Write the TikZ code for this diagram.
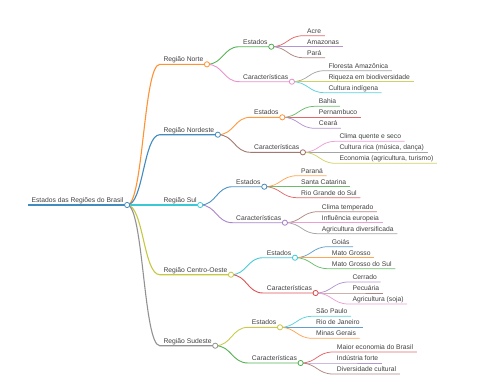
\documentclass[tikz,border=0pt]{standalone}
\usepackage{fontspec}
\setmainfont{Liberation Sans}
\usetikzlibrary{calc}

\definecolor{mmblue}{HTML}{1F77B4}
\definecolor{mmorange}{HTML}{FF7F0E}
\definecolor{mmgreen}{HTML}{2CA02C}
\definecolor{mmred}{HTML}{D62728}
\definecolor{mmpurple}{HTML}{9467BD}
\definecolor{mmbrown}{HTML}{8C564B}
\definecolor{mmpink}{HTML}{E377C2}
\definecolor{mmgray}{HTML}{7F7F7F}
\definecolor{mmolive}{HTML}{BCBD22}
\definecolor{mmcyan}{HTML}{17BECF}
\definecolor{txt}{HTML}{404040}

\begin{document}
\begin{tikzpicture}[
        x=1pt, y=-1pt,
        lbl/.style={anchor=south west, font=\fontsize{6.75}{8}\selectfont, text=txt, inner xsep=3.5pt, inner ysep=2.5pt, text depth=0pt},
        mm/.style={to path={.. controls ($(\tikztostart)!0.5!(\tikztostart-|\tikztotarget)$) and ($(\tikztotarget)!0.5!(\tikztotarget-|\tikztostart)$) .. (\tikztotarget)}},
        ramo/.style={line width=1.1pt, draw=#1!85},
        sub/.style={line width=0.9pt, draw=#1!80},
        folha/.style={line width=0.75pt, draw=#1!70},
        dot/.style={draw=#1!85, fill=white, line width=0.8pt}
    ]
        \useasboundingbox (0,0) rectangle (480,384);

        % raiz e regiões
        \node[lbl] (raiz) at (27.8,205) {Estados das Regiões do Brasil};
        \node[lbl] (norte) at (159.8,64.3) {Região Norte};
        \node[lbl] (nordeste) at (159.8,134.7) {Região Nordeste};
        \node[lbl] (sul) at (159.8,205) {Região Sul};
        \node[lbl] (centro) at (159.8,274.7) {Região Centro-Oeste};
        \node[lbl] (sudeste) at (159.8,345.7) {Região Sudeste};

        % Norte
        \node[lbl] (norteE) at (239.5,46.7) {Estados};
        \node[lbl] (norteC) at (239.5,81.7) {Características};
        \node[lbl] (acre) at (303.5,35.7) {Acre};
        \node[lbl] (amazonas) at (303.5,46.7) {Amazonas};
        \node[lbl] (para) at (303.5,57.7) {Pará};
        \node[lbl] (floresta) at (324.8,70.7) {Floresta Amazônica};
        \node[lbl] (riqueza) at (324.8,81.7) {Riqueza em biodiversidade};
        \node[lbl] (indigena) at (324.8,92.7) {Cultura indígena};

        % Nordeste
        \node[lbl] (nordesteE) at (250.5,117.3) {Estados};
        \node[lbl] (nordesteC) at (250.5,152.3) {Características};
        \node[lbl] (bahia) at (315.2,106.3) {Bahia};
        \node[lbl] (pernambuco) at (315.2,117.3) {Pernambuco};
        \node[lbl] (ceara) at (315.2,128.3) {Ceará};
        \node[lbl] (clima) at (335.8,141.3) {Clima quente e seco};
        \node[lbl] (culturarica) at (335.8,152.3) {Cultura rica (música, dança)};
        \node[lbl] (economia) at (335.8,163.3) {Economia (agricultura, turismo)};

        % Sul
        \node[lbl] (sulE) at (232.5,186.7) {Estados};
        \node[lbl] (sulC) at (232.5,222.7) {Características};
        \node[lbl] (parana) at (297.5,175.7) {Paraná};
        \node[lbl] (santa) at (297.5,186.7) {Santa Catarina};
        \node[lbl] (rgs) at (297.5,197.7) {Rio Grande do Sul};
        \node[lbl] (temperado) at (318.2,211.7) {Clima temperado};
        \node[lbl] (europeia) at (318.2,222.7) {Influência europeia};
        \node[lbl] (agrodiv) at (318.2,233.7) {Agricultura diversificada};

        % Centro-Oeste
        \node[lbl] (centroE) at (263.2,257.7) {Estados};
        \node[lbl] (centroC) at (263.2,293) {Características};
        \node[lbl] (goias) at (328.2,246.7) {Goiás};
        \node[lbl] (mt) at (328.2,257.7) {Mato Grosso};
        \node[lbl] (mts) at (328.2,268.7) {Mato Grosso do Sul};
        \node[lbl] (cerrado) at (348.8,282) {Cerrado};
        \node[lbl] (pecuaria) at (348.8,293) {Pecuária};
        \node[lbl] (soja) at (348.8,304) {Agricultura (soja)};

        % Sudeste
        \node[lbl] (sudesteE) at (248.2,327.3) {Estados};
        \node[lbl] (sudesteC) at (248.2,363) {Características};
        \node[lbl] (sp) at (312.5,316.3) {São Paulo};
        \node[lbl] (rj) at (312.5,327.3) {Rio de Janeiro};
        \node[lbl] (mg) at (312.5,338.3) {Minas Gerais};
        \node[lbl] (maior) at (333.2,352) {Maior economia do Brasil};
        \node[lbl] (industria) at (333.2,363) {Indústria forte};
        \node[lbl] (diversidade) at (333.2,374) {Diversidade cultural};

        % raiz -> regiões
        \draw[ramo=mmblue] (raiz.south west) -- (raiz.south east);
        \foreach \f/\c in {norte/mmorange, nordeste/mmblue, sul/mmcyan, centro/mmolive, sudeste/mmgray}
            \draw[ramo=\c] (raiz.south east) to[mm] (\f.south west) -- (\f.south east);

        % regiões -> Estados / Características
        \foreach \p/\f/\c in {norte/norteE/mmgreen, norte/norteC/mmpink,
                nordeste/nordesteE/mmorange, nordeste/nordesteC/mmbrown,
                sul/sulE/mmblue, sul/sulC/mmpurple,
                centro/centroE/mmcyan, centro/centroC/mmred,
                sudeste/sudesteE/mmolive, sudeste/sudesteC/mmgreen}
            \draw[sub=\c] (\p.south east) to[mm] (\f.south west) -- (\f.south east);

        % folhas
        \foreach \p/\f/\c in {norteE/acre/mmred, norteE/amazonas/mmpurple, norteE/para/mmbrown,
                norteC/floresta/mmgray, norteC/riqueza/mmolive, norteC/indigena/mmcyan,
                nordesteE/bahia/mmgreen, nordesteE/pernambuco/mmred, nordesteE/ceara/mmpurple,
                nordesteC/clima/mmpink, nordesteC/culturarica/mmgray, nordesteC/economia/mmolive,
                sulE/parana/mmorange, sulE/santa/mmgreen, sulE/rgs/mmred,
                sulC/temperado/mmbrown, sulC/europeia/mmpink, sulC/agrodiv/mmgray,
                centroE/goias/mmblue, centroE/mt/mmorange, centroE/mts/mmgreen,
                centroC/cerrado/mmpurple, centroC/pecuaria/mmbrown, centroC/soja/mmpink,
                sudesteE/sp/mmcyan, sudesteE/rj/mmblue, sudesteE/mg/mmorange,
                sudesteC/maior/mmred, sudesteC/industria/mmpurple, sudesteC/diversidade/mmbrown}
            \draw[folha=\c] (\p.south east) to[mm] (\f.south west) -- (\f.south east);

        % círculos
        \foreach \n/\c in {raiz/mmblue, norte/mmorange, nordeste/mmblue, sul/mmcyan, centro/mmolive, sudeste/mmgray,
                norteE/mmgreen, norteC/mmpink, nordesteE/mmorange, nordesteC/mmbrown, sulE/mmblue, sulC/mmpurple,
                centroE/mmcyan, centroC/mmred, sudesteE/mmolive, sudesteC/mmgreen}
            \draw[dot=\c] (\n.south east) circle[radius=2.6pt];
    \end{tikzpicture}
\end{document}
